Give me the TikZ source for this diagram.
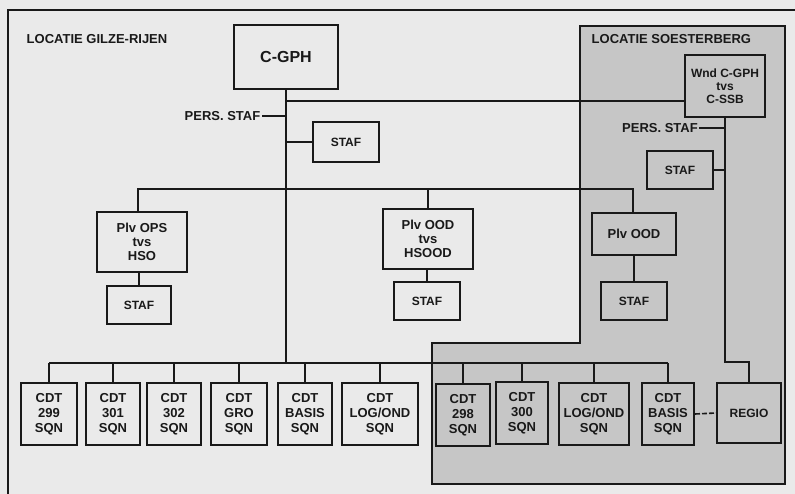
\documentclass[tikz,border=0pt]{standalone}
\usepackage{fontspec}
\setmainfont{Liberation Sans}
\begin{document}
\begin{tikzpicture}[x=1pt,y=-1pt,
  ink/.style={draw=inkc,line width=1.6pt},
  box/.style={draw=inkc,line width=2pt,inner sep=0pt,align=center,font=\bfseries\fontsize{13}{15}\selectfont,text=inkc},
  lbl/.style={inner sep=1.5pt,font=\bfseries\fontsize{13}{15}\selectfont,text=inkc},
  cdt/.style={box,minimum height=62pt}
]
\definecolor{paper}{RGB}{234,234,234}
\definecolor{grayreg}{RGB}{198,198,198}
\definecolor{inkc}{RGB}{25,25,25}
\useasboundingbox (0,0) rectangle (795,494);
\clip (0,0) rectangle (795,494);
\fill[paper] (0,0) rectangle (795,494);
% outer frame
\draw[draw=inkc,line width=2pt] (8,10) rectangle (805,505);
% Soesterberg region
\draw[draw=inkc,line width=2pt,fill=grayreg] (580,26) -- (785,26) -- (785,484) -- (432,484) -- (432,343) -- (580,343) -- cycle;
% labels
\node[lbl,anchor=west] (locg) at (25,39) {LOCATIE GILZE-RIJEN};
\node[lbl,anchor=west] (locs) at (590,39) {LOCATIE SOESTERBERG};
% Gilze boxes
\node[box,font=\bfseries\fontsize{16}{18}\selectfont,minimum width=104pt,minimum height=64pt] (cgph) at (286,57) {C-GPH};
\node[box,font=\bfseries\fontsize{12}{14}\selectfont,minimum width=66pt,minimum height=40pt] (staf1) at (346,142) {STAF};
\node[box,font=\bfseries\fontsize{13}{14}\selectfont,minimum width=90pt,minimum height=60pt] (ops) at (142,242) {Plv OPS\\tvs\\HSO};
\node[box,font=\bfseries\fontsize{12}{14}\selectfont,minimum width=64pt,minimum height=38pt] (opsstaf) at (139,305) {STAF};
\node[box,font=\bfseries\fontsize{13}{14}\selectfont,minimum width=90pt,minimum height=60pt] (oodg) at (428,239) {Plv OOD\\tvs\\HSOOD};
\node[box,font=\bfseries\fontsize{12}{14}\selectfont,minimum width=66pt,minimum height=38pt] (oodstaf) at (427,301) {STAF};
\node[lbl,anchor=east] (pers1) at (262,116) {PERS. STAF};
% Soesterberg boxes
\node[box,font=\bfseries\fontsize{12}{13}\selectfont,minimum width=80pt,minimum height=62pt] (wnd) at (725,86) {Wnd C-GPH\\tvs\\C-SSB};
\node[lbl,anchor=east,inner sep=1pt] (pers2) at (699,128) {PERS. STAF};
\node[box,font=\bfseries\fontsize{12}{14}\selectfont,minimum width=66pt,minimum height=38pt] (soestaf1) at (680,170) {STAF};
\node[box,minimum width=84pt,minimum height=42pt] (soeplv) at (634,234) {Plv OOD};
\node[box,font=\bfseries\fontsize{12}{14}\selectfont,minimum width=66pt,minimum height=38pt] (soestaf2) at (634,301) {STAF};
% CDT boxes
\node[cdt,minimum width=56pt] (c1) at (49,414) {CDT\\299\\SQN};
\node[cdt,minimum width=54pt] (c2) at (113,414) {CDT\\301\\SQN};
\node[cdt,minimum width=54pt] (c3) at (174,414) {CDT\\302\\SQN};
\node[cdt,minimum width=56pt] (c4) at (239,414) {CDT\\GRO\\SQN};
\node[cdt,minimum width=54pt] (c5) at (305,414) {CDT\\BASIS\\SQN};
\node[cdt,minimum width=76pt] (c6) at (380,414) {CDT\\LOG/OND\\SQN};
\node[cdt,minimum width=54pt] (c7) at (463,415) {CDT\\298\\SQN};
\node[cdt,minimum width=52pt] (c8) at (522,413) {CDT\\300\\SQN};
\node[cdt,minimum width=70pt] (c9) at (594,414) {CDT\\LOG/OND\\SQN};
\node[cdt,minimum width=52pt] (c10) at (668,414) {CDT\\BASIS\\SQN};
\node[box,font=\bfseries\fontsize{12}{14}\selectfont,minimum width=64pt,minimum height=60pt] (regio) at (749,413) {REGIO};
% coordinates
\coordinate (h1) at (286,101);
\coordinate (h2a) at (138,189);
\coordinate (h2b) at (633,189);
\coordinate (bus) at (47,363);
\coordinate (sk) at (725,362);
% Gilze connectors
\draw[ink] (cgph.south) -- (cgph.south |- bus);
\draw[ink] (h1) -- (h1 -| wnd.west);
\draw[ink] (pers1.east) -- (pers1.east -| cgph.south);
\draw[ink] (staf1.west) -- (staf1.west -| cgph.south);
\draw[ink] (h2a |- ops.north) -- (h2a) -- (h2b) -- (h2b |- soeplv.north);
\draw[ink] (h2b -| oodg.north) -- (oodg.north);
\draw[ink] (opsstaf.north |- ops.south) -- (opsstaf.north);
\draw[ink] (oodstaf.north |- oodg.south) -- (oodstaf.north);
% bus
\draw[ink] (c1.north |- bus) -- (c10.north |- bus);
\foreach \c in {c1,c2,c3,c4,c5,c6,c7,c8,c9,c10} {
  \draw[ink] (\c.north |- bus) -- (\c.north);
}
% Soesterberg connectors
\draw[ink] (wnd.south) -- (wnd.south |- sk) -| (regio.north);
\draw[ink] (pers2.east) -- (pers2.east -| wnd.south);
\draw[ink] (soestaf1.east) -- (soestaf1.east -| wnd.south);
\draw[ink] (soeplv.south) -- (soestaf2.north);
\draw[ink,dash pattern=on 5pt off 2pt] (c10.east) -- (regio.west);
\end{tikzpicture}
\end{document}
